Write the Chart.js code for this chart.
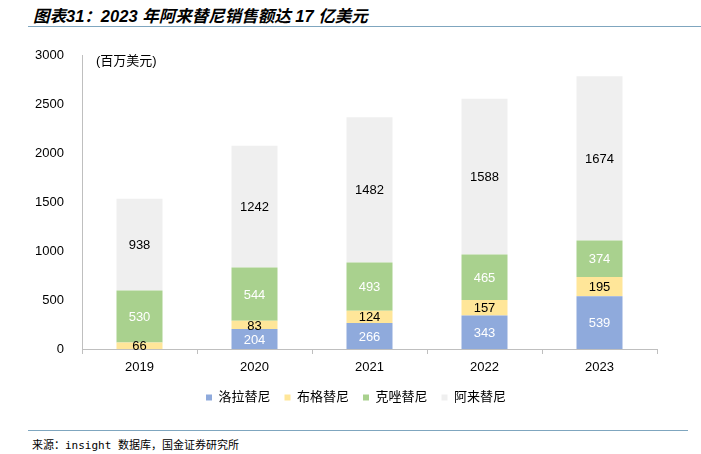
<!DOCTYPE html>
<html>
<head>
<meta charset="utf-8">
<script src="https://cdn.jsdelivr.net/npm/chart.js@4.4.0/dist/chart.umd.min.js"></script>
<style>
  body { margin: 0; width: 701px; height: 454px; background: #fff; position: relative; overflow: hidden;
    font-family: "Liberation Sans", "Noto Sans CJK SC", sans-serif; }
  #title { position: absolute; left: 33px; top: 3px; font-size: 16.5px; font-weight: bold; font-style: italic; color: #000; }
  #topLine { position: absolute; left: 28px; right: 0; top: 26px; height: 1px; background: #7fa6bf; }
  #bottomLine { position: absolute; left: 28px; width: 660px; top: 430px; height: 1px; background: #7fa6bf; }
  #source { position: absolute; left: 32px; top: 436px; font-size: 11px; color: #000;
    font-family: "DejaVu Sans Mono", "Noto Sans CJK SC", monospace; }
  #unit { position: absolute; left: 96px; top: 50px; font-size: 13px; color: #000; }
  #wrap { position: absolute; left: 0; top: 0; width: 701px; height: 414px; }
</style>
</head>
<body>
<div id="title">图表31：2023 年阿来替尼销售额达 17 亿美元</div>
<div id="topLine"></div>
<div id="wrap"><canvas id="chart"></canvas></div>
<div id="unit">(百万美元)</div>
<div id="bottomLine"></div>
<div id="source">来源：insight 数据库，国金证券研究所</div>
<script>
const years = ["2019", "2020", "2021", "2022", "2023"];
const lorlatinib = [0, 204, 266, 343, 539];
const brigatinib = [66, 83, 124, 157, 195];
const crizotinib = [530, 544, 493, 465, 374];
const alectinib = [938, 1242, 1482, 1588, 1674];
const yTicks = [0, 500, 1000, 1500, 2000, 2500, 3000];

const font = "'Liberation Sans', 'Noto Sans CJK SC', sans-serif";

// draws the number in the middle of each segment
const segmentLabels = {
  id: "segmentLabels",
  afterDatasetsDraw(chart) {
    const ctx = chart.ctx;
    ctx.save();
    ctx.font = "13px " + font;
    ctx.textAlign = "center";
    ctx.textBaseline = "middle";
    chart.data.datasets.forEach((ds, i) => {
      const meta = chart.getDatasetMeta(i);
      meta.data.forEach((bar, j) => {
        const v = ds.data[j];
        if (!v) return;
        ctx.fillStyle = ds.labelColor;
        ctx.fillText(String(v), bar.x, (bar.y + bar.base) / 2 + 1);
      });
    });
    ctx.restore();
  }
};

new Chart(document.getElementById("chart"), {
  type: "bar",
  data: {
    labels: years,
    datasets: [
      { label: "洛拉替尼", data: lorlatinib, backgroundColor: "#8faadc", labelColor: "#fff" },
      { label: "布格替尼", data: brigatinib, backgroundColor: "#ffe699", labelColor: "#000" },
      { label: "克唑替尼", data: crizotinib, backgroundColor: "#a9d18e", labelColor: "#fff" },
      { label: "阿来替尼", data: alectinib, backgroundColor: "#efefef", labelColor: "#000" }
    ]
  },
  options: {
    responsive: true,
    maintainAspectRatio: false,
    animation: false,
    layout: { padding: { top: 55, right: 0, left: 11, bottom: 0 } },
    datasets: { bar: { categoryPercentage: 1, barPercentage: 0.4 } },
    scales: {
      x: {
        stacked: true,
        offset: true,
        grid: { display: true, drawOnChartArea: false, offset: true, tickLength: 5, color: "#bfbfbf" },
        border: { color: "#bfbfbf" },
        ticks: { color: "#000", font: { size: 13, family: font }, padding: 6 },
        afterFit: s => { s.height = 28; }
      },
      y: {
        stacked: true,
        min: 0,
        max: 3000,
        afterBuildTicks: s => { s.ticks = yTicks.map(v => ({ value: v })); },
        grid: { display: false },
        border: { color: "#bfbfbf" },
        ticks: { color: "#000", font: { size: 13, family: font }, padding: 10, callback: v => String(v) },
        afterFit: s => { s.width = 71; }
      },
      // empty right-hand spacer so the legend stays centred on the whole page
      spacer: {
        type: "linear",
        position: "right",
        display: true,
        grid: { display: false },
        border: { display: false },
        ticks: { display: false },
        afterFit: s => { s.width = 44; }
      }
    },
    plugins: {
      legend: {
        position: "bottom",
        labels: {
          usePointStyle: true,
          pointStyle: "rect",
          boxWidth: 6,
          boxHeight: 6,
          padding: 14,
          color: "#000",
          font: { size: 13, family: font }
        }
      },
      tooltip: { enabled: false }
    }
  },
  plugins: [segmentLabels]
});
</script>
</body>
</html>
